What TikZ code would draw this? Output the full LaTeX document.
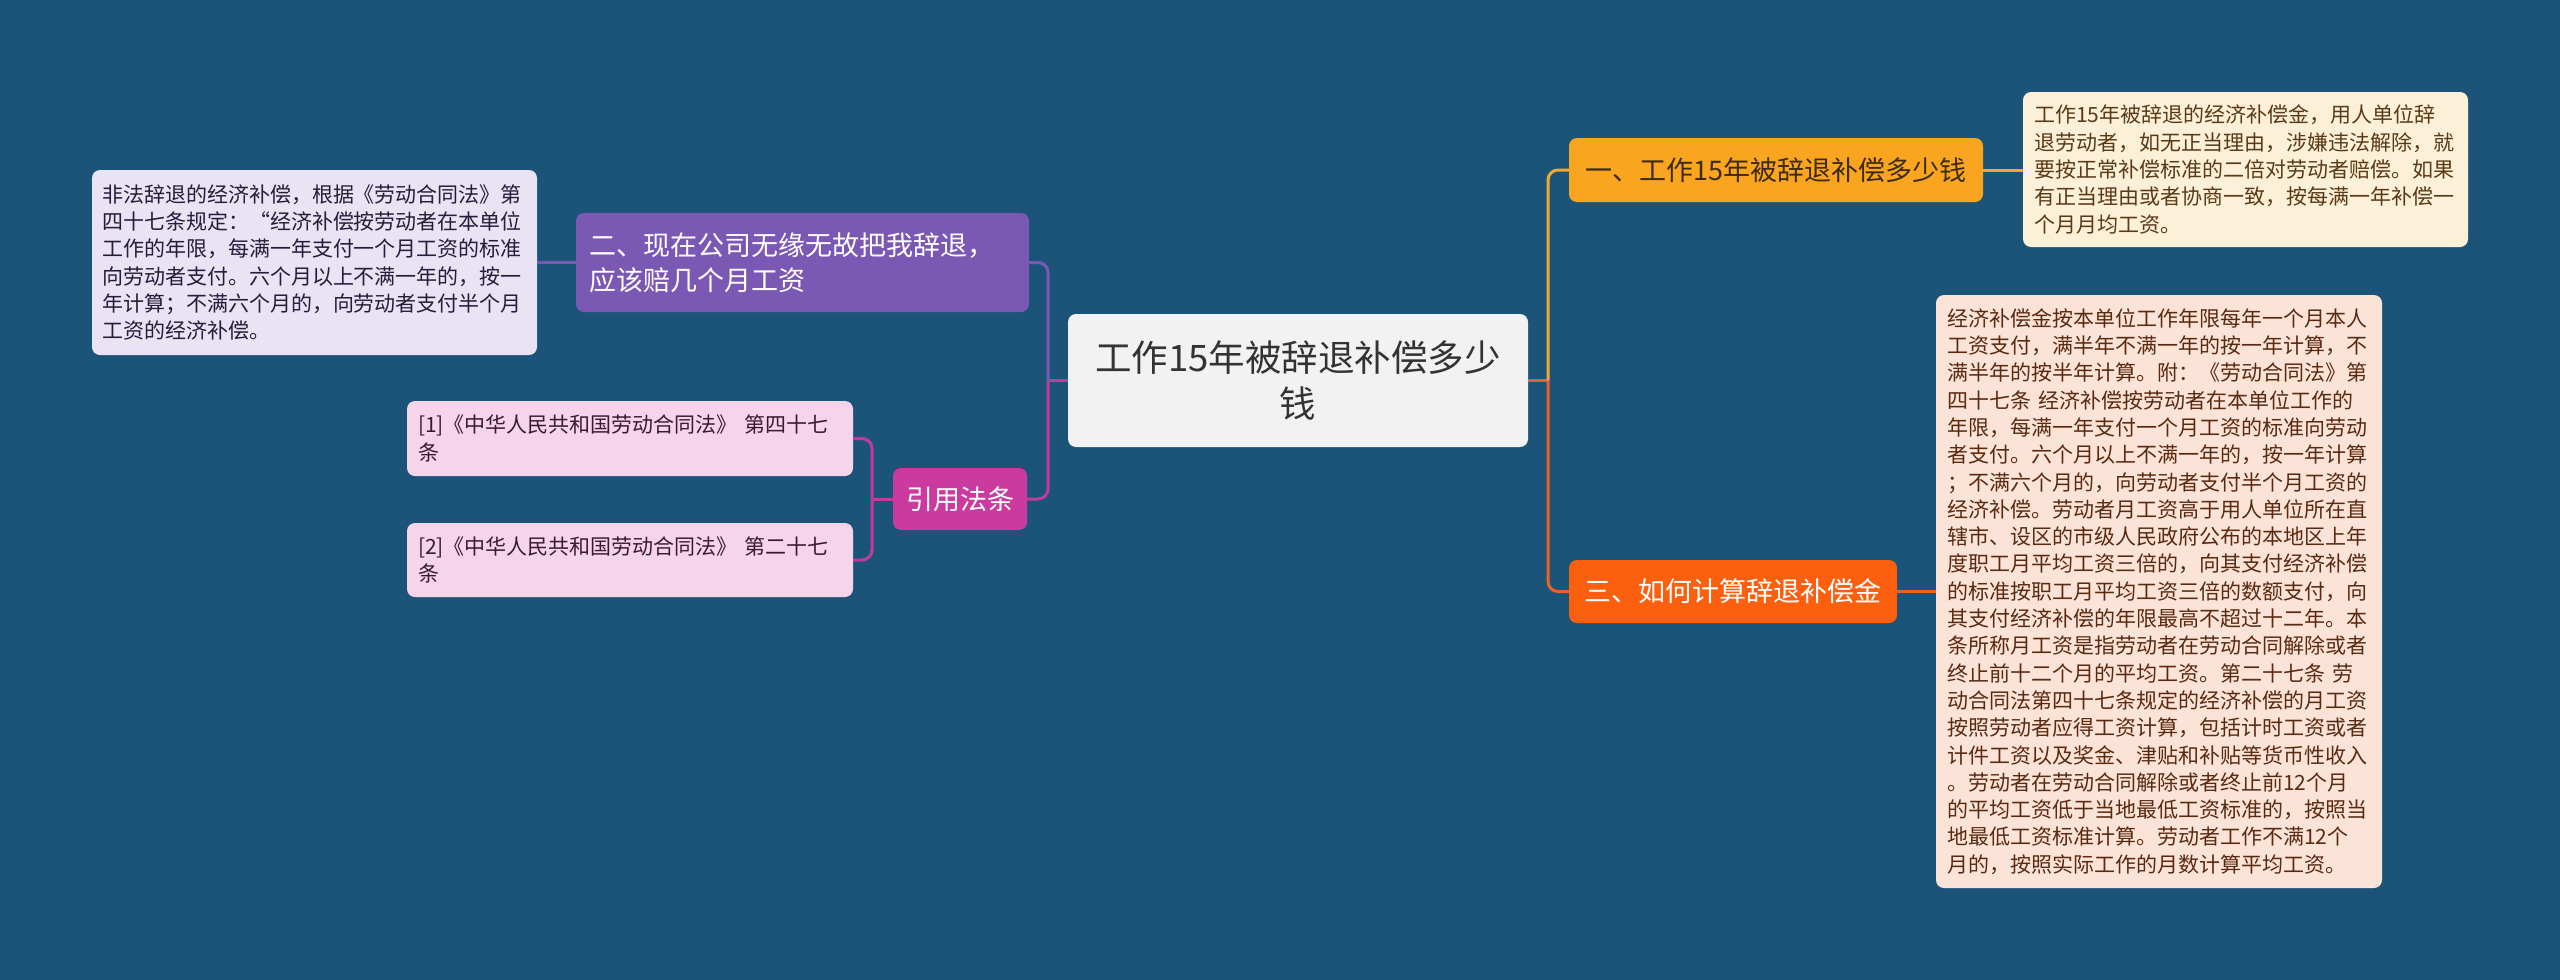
\documentclass[tikz,border=0pt]{standalone}
\usepackage{fontspec}
\setmainfont{Noto Sans CJK SC}
\definecolor{bg}{RGB}{27,84,120}
\definecolor{mainfill}{RGB}{242,242,242}
\definecolor{maintext}{RGB}{51,51,51}
\definecolor{onefill}{RGB}{249,165,31}
\definecolor{onetext}{RGB}{61,43,15}
\definecolor{onefline}{RGB}{240,168,48}
\definecolor{threefill}{RGB}{252,96,15}
\definecolor{threeline}{RGB}{232,100,35}
\definecolor{tonefill}{RGB}{253,240,216}
\definecolor{tonetext}{RGB}{90,58,22}
\definecolor{tthreefill}{RGB}{252,227,215}
\definecolor{tthreetext}{RGB}{90,42,16}
\definecolor{purp}{RGB}{124,88,181}
\definecolor{lavfill}{RGB}{233,227,243}
\definecolor{lavtext}{RGB}{40,28,60}
\definecolor{mag}{RGB}{203,58,158}
\definecolor{magline}{RGB}{196,58,154}
\definecolor{pinkfill}{RGB}{246,213,235}
\definecolor{pinktext}{RGB}{58,26,48}
\tikzset{
  basebox/.style={rounded corners=8pt, inner ysep=0pt, inner xsep=11pt, anchor=center},
  smalltext/.style={font=\fontsize{21}{27.3}\selectfont, align=left},
  midtext/.style={font=\fontsize{27}{35}\selectfont, align=left},
  conn/.style={line width=3pt, rounded corners=10pt},
}
\begin{document}
\begin{tikzpicture}[x=1pt,y=-1pt]
\fill[bg] (0,0) rectangle (2560,980);
\useasboundingbox (0,0) rectangle (2560,980);

% central
\node[basebox, fill=mainfill, text=maintext, minimum width=460pt, minimum height=133pt, text width=438pt, align=center, font=\fontsize{36.5}{46}\selectfont] (c) at (1298,380.5) {工作15年被辞退补偿多少\\钱};

% right branch
\node[basebox, fill=onefill, text=onetext, midtext, minimum width=414pt, minimum height=64pt, text width=392pt, align=center] (n1) at (1776,170) {一、工作15年被辞退补偿多少钱};
\node[basebox, fill=threefill, text=white, midtext, minimum width=328pt, minimum height=63pt, text width=306pt, align=center] (n3) at (1733,591.5) {三、如何计算辞退补偿金};

\node[basebox, fill=tonefill, text=tonetext, smalltext, minimum width=445pt, minimum height=155pt, text width=423pt] (t1) at (2245.5,169.5) {工作15年被辞退的经济补偿金，用人单位辞\\退劳动者，如无正当理由，涉嫌违法解除，就\\要按正常补偿标准的二倍对劳动者赔偿。如果\\有正当理由或者协商一致，按每满一年补偿一\\个月月均工资。};

\node[basebox, fill=tthreefill, text=tthreetext, smalltext, minimum width=446pt, minimum height=593pt, text width=424pt] (t3) at (2159,591.5) {经济补偿金按本单位工作年限每年一个月本人\\工资支付，满半年不满一年的按一年计算，不\\满半年的按半年计算。附：《劳动合同法》第\\四十七条~经济补偿按劳动者在本单位工作的\\年限，每满一年支付一个月工资的标准向劳动\\者支付。六个月以上不满一年的，按一年计算\\；不满六个月的，向劳动者支付半个月工资的\\经济补偿。劳动者月工资高于用人单位所在直\\辖市、设区的市级人民政府公布的本地区上年\\度职工月平均工资三倍的，向其支付经济补偿\\的标准按职工月平均工资三倍的数额支付，向\\其支付经济补偿的年限最高不超过十二年。本\\条所称月工资是指劳动者在劳动合同解除或者\\终止前十二个月的平均工资。第二十七条~劳\\动合同法第四十七条规定的经济补偿的月工资\\按照劳动者应得工资计算，包括计时工资或者\\计件工资以及奖金、津贴和补贴等货币性收入\\。劳动者在劳动合同解除或者终止前12个月\\的平均工资低于当地最低工资标准的，按照当\\地最低工资标准计算。劳动者工作不满12个\\月的，按照实际工作的月数计算平均工资。};

% left branch
\node[basebox, fill=purp, text=white, midtext, minimum width=449pt, minimum height=99pt, text width=427pt, inner xsep=13pt] (p) at (802.5,262.5) {二、现在公司无缘无故把我辞退，\\应该赔几个月工资};

\node[basebox, fill=lavfill, text=lavtext, smalltext, minimum width=445pt, minimum height=185pt, text width=425pt, inner xsep=10pt] (l) at (314.5,262.5) {非法辞退的经济补偿，根据《劳动合同法》第\\四十七条规定：“经济补偿按劳动者在本单位\\工作的年限，每满一年支付一个月工资的标准\\向劳动者支付。六个月以上不满一年的，按一\\年计算；不满六个月的，向劳动者支付半个月\\工资的经济补偿。};

\node[basebox, fill=mag, text=white, midtext, minimum width=134pt, minimum height=62pt, text width=112pt, align=center] (r) at (960,499) {引用法条};

\node[basebox, fill=pinkfill, text=pinktext, smalltext, minimum width=446pt, minimum height=75pt, text width=424pt] (k1) at (630,438.5) {[1]《中华人民共和国劳动合同法》~第四十七\\条};
\node[basebox, fill=pinkfill, text=pinktext, smalltext, minimum width=446pt, minimum height=74pt, text width=424pt] (k2) at (630,560) {[2]《中华人民共和国劳动合同法》~第二十七\\条};

% junctions
\coordinate (jr) at (1548,380.5);
\coordinate (jl) at (1048,380.5);
\coordinate (jk) at (872,499);

% connectors right
\draw[conn, threeline] (c.east) -- (jr);
\draw[conn, onefline] (jr) |- (n1.west);
\draw[conn, threeline] (jr) |- (n3.west);
\draw[conn, onefline] (n1.east) -- (t1.west |- n1.east);
\draw[conn, threeline] (n3.east) -- (t3.west |- n3.east);

% connectors left
\draw[conn, magline] (c.west) -- (jl);
\draw[conn, purp] (jl) |- (p.east);
\draw[conn, magline] (jl) |- (r.east);
\draw[conn, purp] (p.west) -- (l.east |- p.west);
\draw[conn, magline] (r.west) -- (jk);
\draw[conn, magline] (jk) |- (k1.east);
\draw[conn, magline] (jk) |- (k2.east);
\end{tikzpicture}
\end{document}
